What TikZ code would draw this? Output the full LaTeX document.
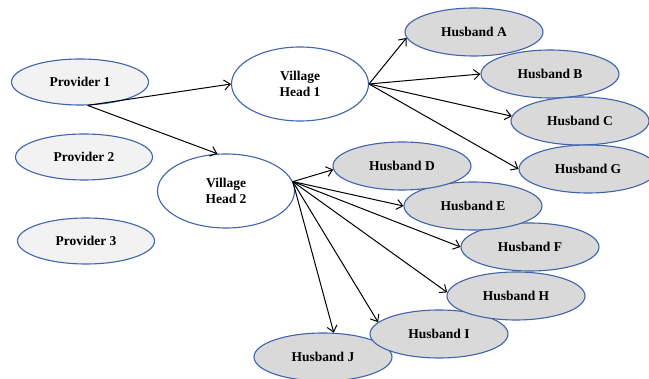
\documentclass[tikz,border=0pt]{standalone}
\usepackage{fontspec}
\setmainfont{Liberation Serif}
\usetikzlibrary{shapes.geometric,arrows.meta}
\definecolor{edgeblue}{RGB}{62,100,172}
\definecolor{provfill}{RGB}{242,242,242}
\definecolor{husfill}{RGB}{217,217,217}
\tikzset{
  oval/.style={ellipse, draw=edgeblue, line width=1.1pt, inner sep=0pt,
    font=\fontsize{13.5}{16}\selectfont\bfseries, align=center},
  prov/.style={oval, fill=provfill, minimum width=137pt, minimum height=46pt},
  head/.style={oval, fill=white, minimum width=137pt, minimum height=74pt},
  hus/.style={oval, fill=husfill, minimum width=138pt, minimum height=48pt},
  link/.style={draw=black, line width=1pt, -{Straight Barb[length=6pt,width=10pt]}}
}
\begin{document}
\begin{tikzpicture}[x=1pt,y=-1pt]
\useasboundingbox (0,0) rectangle (649,379);
\node[prov] (P1) at (80,82) {Provider 1};
\node[prov] (P2) at (84,157) {Provider 2};
\node[prov] (P3) at (86,241) {Provider 3};
\node[head] (V1) at (300,84) {Village\\Head 1};
\node[head] (V2) at (226,191) {Village\\Head 2};
\node[hus] (HA) at (474,32) {Husband A};
\node[hus] (HB) at (550,74) {Husband B};
\node[hus] (HC) at (580,121) {Husband C};
\node[hus] (HG) at (588,169) {Husband G};
\node[hus] (HJ) at (323,357) {Husband J};
\node[hus] (HI) at (439,334) {Husband I};
\node[hus] (HH) at (516,296) {Husband H};
\node[hus] (HF) at (530,247) {Husband F};
\node[hus] (HE) at (473,206) {Husband E};
\node[hus] (HD) at (402,166) {Husband D};
\coordinate (p1s) at (P1.-72);
\coordinate (v1e) at (V1.east);
\coordinate (v2e) at (V2.8);
\draw[link] (p1s) -- (V1.west);
\draw[link] (p1s) -- (V2.103);
\draw[link] (v1e) -- (HA.185);
\draw[link] (v1e) -- (HB.west);
\draw[link] (v1e) -- (HC.176);
\draw[link] (v1e) -- (HG.west);
\draw[link] (v2e) -- (HD.183);
\draw[link] (v2e) -- (HE.west);
\draw[link] (v2e) -- (HF.west);
\draw[link] (v2e) -- (HH.177);
\draw[link] (v2e) -- (HI.169);
\draw[link] (v2e) -- (HJ.66);
\end{tikzpicture}
\end{document}
